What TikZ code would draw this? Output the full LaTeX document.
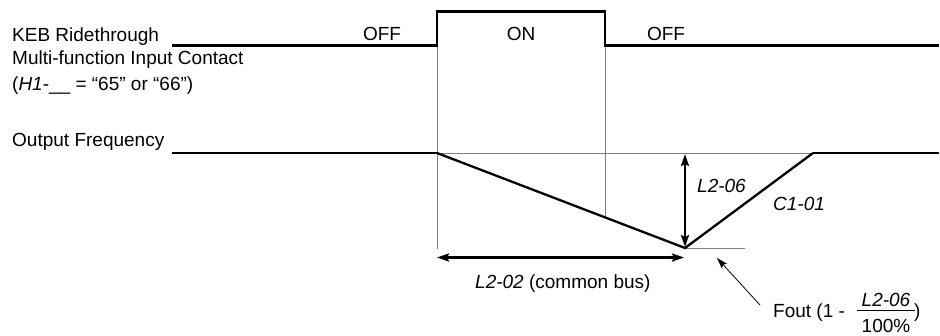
\documentclass[tikz,border=0pt]{standalone}
\usepackage{fontspec}
\setmainfont{Liberation Sans}
\usetikzlibrary{arrows.meta}
\begin{document}
\begin{tikzpicture}[x=1pt,y=-1pt,
  sig/.style={line width=2.8pt, line join=miter},
  ramp/.style={line width=2.3pt, line join=miter},
  guide/.style={draw=black!50, line width=0.9pt},
  dimarrow/.style={line width=2.3pt, {Stealth[length=12pt,width=8pt,inset=2pt]}-{Stealth[length=12pt,width=8pt,inset=2pt]}},
  pointer/.style={line width=0.8pt, -{Stealth[length=11pt,width=7pt,inset=2pt]}},
  lbl/.style={font=\fontsize{19}{22}\selectfont, inner sep=0pt, anchor=base west},
  lblc/.style={font=\fontsize{19}{22}\selectfont, inner sep=0pt, anchor=base},
]
\useasboundingbox (0,0) rectangle (940,335);

% texts
\node[lbl] (keb) at (12,41.5) {KEB Ridethrough};
\node[lbl] (mfi) at (12,64) {Multi-function Input Contact};
\node[lbl] (h1) at (12,90.5) {(\textit{H1}-\_\_ = “65” or “66”)};
\node[lbl] (ofreq) at (12,146.5) {Output Frequency};
\node[lblc] (off1) at (382,40) {OFF};
\node[lblc] (on) at (521,40) {ON};
\node[lblc] (off2) at (666,40) {OFF};

% coordinates of the signals
\coordinate (s0) at (172,45.5);
\coordinate (s1) at (437,45.5);
\coordinate (s2) at (437,11.5);
\coordinate (s3) at (605,11.5);
\coordinate (s4) at (605,45.5);
\coordinate (s5) at (939,45.5);

\coordinate (f0) at (172,153);
\coordinate (f1) at (437,153);
\coordinate (fmin) at (685,248);
\coordinate (f2) at (813,153);
\coordinate (f3) at (939,153);

% guide lines
\coordinate (g1b) at (437,249);
\coordinate (g2b) at (605,217.5);
\coordinate (gmin) at (745,248);
\draw[guide] (s1) -- (g1b);
\draw[guide] (s4) -- (g2b);
\draw[guide] (f1) -- (f2);
\draw[guide] (fmin) -- (gmin);

% signals
\draw[sig] (s0) -- (s1) -- (s2) -- (s3) -- (s4) -- (s5);
\draw[sig] (f0) -- (f1);
\draw[ramp] (f1) -- (fmin) -- (f2);
\draw[sig] (f2) -- (f3);

% dimension arrows
\coordinate (vt) at (685,154);
\coordinate (vb) at (685,247);
\draw[dimarrow] (vt) -- (vb);
\coordinate (hl) at (437,257.5);
\coordinate (hr) at (684,257.5);
\draw[dimarrow] (hl) -- (hr);

\node[lbl] (l206) at (697,192) {\textit{L2-06}};
\node[lbl] (c101) at (773,210) {\textit{C1-01}};
\node[lbl] (l202) at (475,288) {\textit{L2-02} (common bus)};

% Fout label
\node[lbl] (fout) at (773,317) {Fout (1 -};
\node[lblc] (num) at (886,306) {\textit{L2-06}};
\node[lblc] (den) at (886,332) {100\%};
\coordinate (barl) at (857,310.5);
\coordinate (barr) at (915,310.5);
\draw[line width=1.1pt] (barl) -- (barr);
\node[lbl] (paren) at (914,317) {)};
\coordinate (ptail) at (760,305);
\coordinate (ptip) at (717,258);
\draw[pointer] (ptail) -- (ptip);
\end{tikzpicture}
\end{document}
